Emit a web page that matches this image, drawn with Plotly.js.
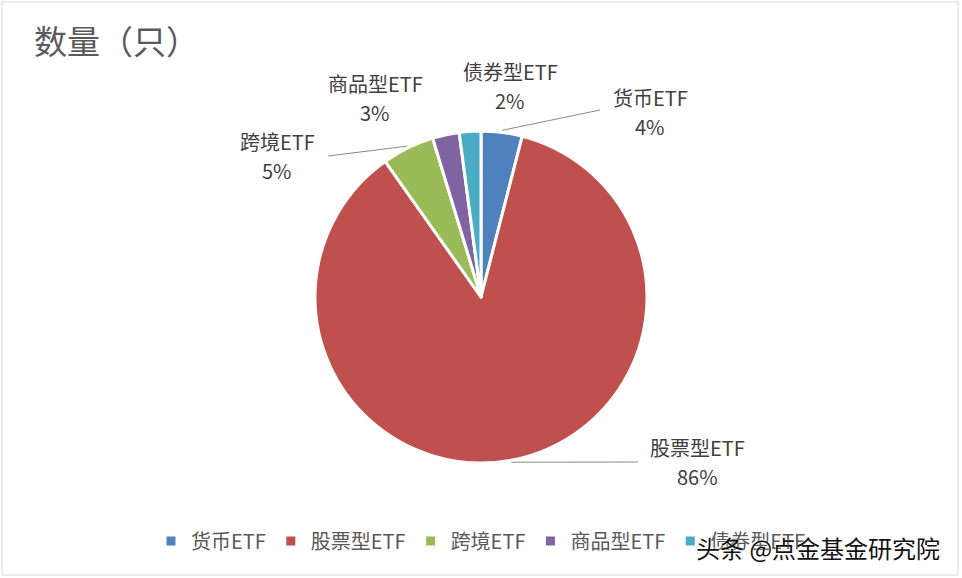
<!DOCTYPE html>
<html>
<head>
<meta charset="utf-8">
<script src="https://cdn.plot.ly/plotly-3.0.1.min.js"></script>
<style>
html,body{margin:0;padding:0;background:#fff;}
#chart{width:962px;height:578px;}
</style>
</head>
<body>
<div id="chart"></div>
<script>
// ---- data ----
const labels = ['货币ETF', '股票型ETF', '跨境ETF', '商品型ETF', '债券型ETF'];
const values = [4.0, 86.2, 5.1, 2.6, 2.1];
const colors = ['#4F81BD', '#C0504D', '#9BBB59', '#8064A2', '#4BACC6'];
const titleText = '数量（只）';
const watermark = '头条 @点金基金研究院';

// ---- layout constants ----
const W = 962, H = 578;
const mt = 131, mb = 115, ml = 0, mr = 0;
const pw = W - ml - mr, ph = H - mt - mb;
const cx = ml + pw / 2, cy = mt + ph / 2, R = ph / 2;
const FONT = '"Noto Sans CJK SC", "Noto Sans", sans-serif';

// label text-block centres (pixels), and end point of each leader line (null = none)
const labelPos = [[650, 112], [697, 462], [277, 156], [375, 98], [510, 86]];
const leaderEnd = [[600, 110], [638, 462], [328, 156], null, null];
const rowGap = 29;

const toPx = (px) => (px - ml) / pw;
const toPy = (py) => (H - mb - py) / ph;

const total = values.reduce((a, b) => a + b, 0);
const annotations = [];
const shapes = [{
  type: 'rect', xref: 'paper', yref: 'paper',
  x0: toPx(2), x1: toPx(958), y0: toPy(575), y1: toPy(2),
  line: {color: '#d9d9d9', width: 1}, fillcolor: 'rgba(0,0,0,0)', layer: 'below'
}];
let cum = 0;
values.forEach((v, i) => {
  const mid = (cum + v / 2) / total * 2 * Math.PI;
  cum += v;
  const px = cx + (R + 2) * Math.sin(mid);
  const py = cy - (R + 2) * Math.cos(mid);
  const pct = Math.round(v / total * 100) + '%';
  const [lx, ly] = labelPos[i];
  const base = {
    font: {family: FONT, size: 20, color: '#404040'},
    xref: 'paper', yref: 'paper', showarrow: false,
    xanchor: 'center', yanchor: 'middle'
  };
  annotations.push(Object.assign({}, base, {text: labels[i], x: toPx(lx), y: toPy(ly - rowGap / 2)}));
  annotations.push(Object.assign({}, base, {text: pct, x: toPx(lx), y: toPy(ly + rowGap / 2)}));
  if (leaderEnd[i]) {
    shapes.push({
      type: 'line', xref: 'paper', yref: 'paper',
      x0: toPx(px), y0: toPy(py), x1: toPx(leaderEnd[i][0]), y1: toPy(leaderEnd[i][1]),
      line: {color: '#8a8a8a', width: 1}
    });
  }
});

annotations.push({
  text: watermark, xref: 'paper', yref: 'paper',
  x: toPx(818), y: toPy(547), xanchor: 'center', yanchor: 'middle',
  showarrow: false,
  font: {family: FONT, size: 24, color: '#111111', shadow: '0 0 2px #ffffff'}
});

const data = [{
  type: 'pie',
  labels: labels,
  values: values,
  sort: false,
  direction: 'clockwise',
  rotation: 0,
  textinfo: 'none',
  hoverinfo: 'label+percent',
  marker: {colors: colors, line: {color: '#ffffff', width: 3}},
  domain: {x: [0, 1], y: [0, 1]}
}];

const layout = {
  width: W, height: H,
  margin: {l: ml, r: mr, t: mt, b: mb},
  paper_bgcolor: '#ffffff',
  plot_bgcolor: '#ffffff',
  title: {
    text: titleText,
    font: {family: FONT, size: 33, color: '#5a5a5a'},
    xref: 'container', yref: 'container',
    x: 34 / W, xanchor: 'left', y: 1 - 42 / H, yanchor: 'middle'
  },
  showlegend: true,
  legend: {
    orientation: 'h', x: 0.5, xanchor: 'center',
    yref: 'container', y: 1 - 541 / H, yanchor: 'middle',
    font: {family: FONT, size: 20, color: '#595959'},
    itemwidth: 30, traceorder: 'normal'
  },
  annotations: annotations,
  shapes: shapes
};

Plotly.newPlot('chart', data, layout, {displayModeBar: false, staticPlot: true});
</script>
</body>
</html>
